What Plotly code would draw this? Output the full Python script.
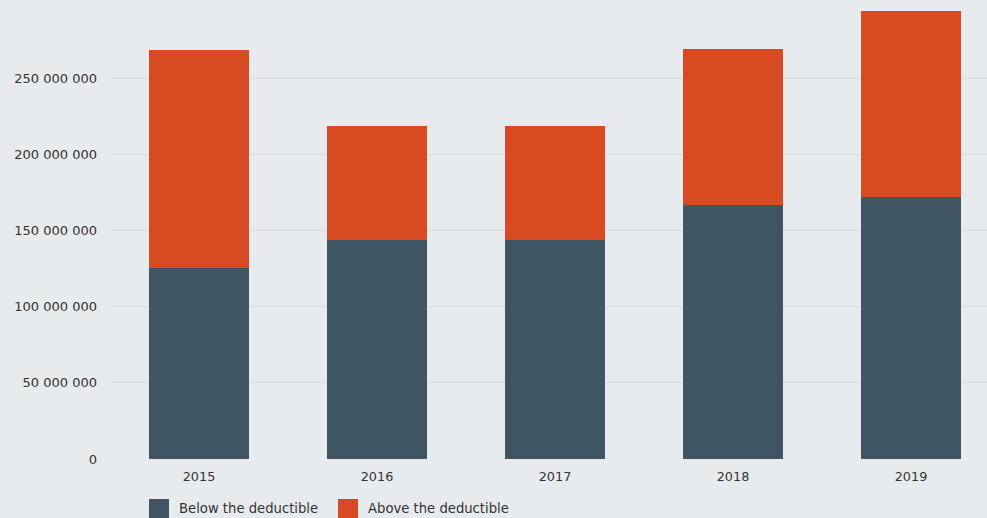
import plotly.graph_objects as go

years = ["2015", "2016", "2017", "2018", "2019"]
below = [125_400_000, 143_800_000, 143_800_000, 166_600_000, 171_900_000]
above = [142_800_000, 74_600_000, 74_600_000, 102_300_000, 121_900_000]
series_names = ["Below the deductible", "Above the deductible"]
colors = ["#405564", "#D84A22"]
ytick_vals = [0, 50_000_000, 100_000_000, 150_000_000, 200_000_000, 250_000_000]

W, H = 987, 518
ML, MR, MT, MB = 110, 0, 2, 59
PW, PH = W - ML - MR, H - MT - MB

FONT = "DejaVu Sans"
TXT = "#333333"

fig = go.Figure()
for name, vals, col in zip(series_names, [below, above], colors):
    fig.add_trace(go.Bar(x=years, y=vals, name=name, marker=dict(color=col, line=dict(width=0)),
                         width=0.562, showlegend=False))

def px_x(p):
    return (p - ML) / PW

def px_y(p):
    return (H - MB - p) / PH

shapes = []
annotations = []
legend_items = [(149, 176.7), (338, 366)]
for (sx, tx), name, col in zip(legend_items, series_names, colors):
    shapes.append(dict(type="rect", xref="paper", yref="paper",
                       x0=px_x(sx), x1=px_x(sx + 20), y0=px_y(499), y1=px_y(519),
                       fillcolor=col, line=dict(width=0)))
    annotations.append(dict(xref="paper", yref="paper", x=px_x(tx), y=px_y(508.5),
                            xanchor="left", yanchor="middle", showarrow=False,
                            text=name, font=dict(family=FONT, size=13.2, color=TXT)))

fig.update_layout(
    barmode="stack",
    width=W, height=H,
    margin=dict(l=ML, r=MR, t=MT, b=MB, pad=0),
    paper_bgcolor="#E7EBEE",
    plot_bgcolor="#E7EBEE",
    separators=". ",
    font=dict(family=FONT, size=13, color=TXT),
    shapes=shapes,
    annotations=annotations,
    xaxis=dict(range=[-0.5, 4.427], showgrid=False, zeroline=False, showline=False,
               ticks="", ticklabelstandoff=8,
               tickfont=dict(family=FONT, size=12.8, color=TXT)),
    yaxis=dict(range=[0, 300_000_000], tickvals=ytick_vals, tickformat=",d",
               showgrid=True, gridcolor="#D9DDE1", gridwidth=1.3,
               zeroline=False, showline=False, ticks="",
               ticklabelstandoff=12,
               tickfont=dict(family=FONT, size=13, color=TXT)),
)

fig.write_html("out.html", config={"displayModeBar": False},
               post_script="document.body.style.margin='0';document.body.style.overflow='hidden';")
